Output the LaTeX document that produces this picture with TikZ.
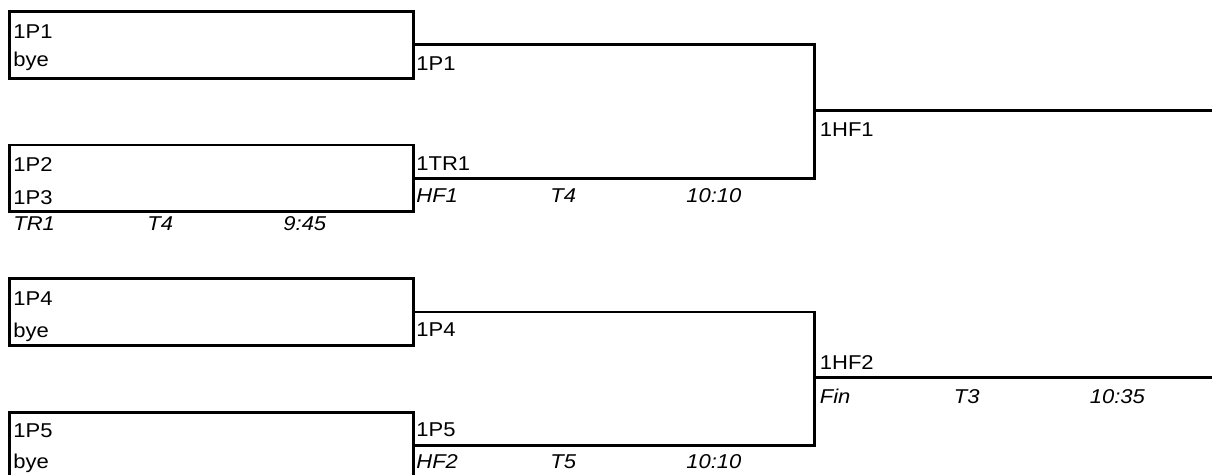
\documentclass[tikz,border=0pt]{standalone}
\usepackage{fontspec}
\setmainfont[FakeStretch=1.1]{Liberation Sans}
\usetikzlibrary{positioning}

\begin{document}
\begin{tikzpicture}[x=1pt, y=-1pt, line width=2.8pt,
    seed/.style={draw, rectangle, inner sep=0pt, anchor=north west,
      minimum width=404pt, minimum height=66.8pt},
    team/.style={anchor=base west, inner sep=0pt,
      font=\fontsize{20}{22}\selectfont},
    slot/.style={team, font=\fontsize{20}{22}\selectfont\itshape}]

\useasboundingbox (0,0) rectangle (1212,474);

% first round boxes
\foreach \m/\y in {1/10, 2/143.6, 4/277.2, 5/410.8}
  \node [seed] (seed-\m) at (8,\y) {};

% names in the boxes
\foreach \t/\l/\y [count=\i] in {1P1/p1/38, bye/bye1/66.7, 1P2/p2/171.7, 1P3/p3/204,
    1P4/p4/305, bye/bye4/337.3, 1P5/p5/437.3, bye/bye5/468}
  \node [team] (\l) at (12,\y) {\t};

% joins and finals
\coordinate (join-1) at (814.5,110.2);
\coordinate (join-2) at (814.5,377.4);
\coordinate (final-1) at (1212,110.2);
\coordinate (final-2) at (1212,377.4);

\draw (seed-1.east) -| (join-1) |- (seed-2.east);
\draw (seed-4.east) -| (join-2) |- (seed-5.east);
\draw (join-1) -- (final-1);
\draw (join-2) -- (final-2);

% winners
\node [team] (w1)   at (415,70.7)   {1P1};
\node [team] (wtr1) at (415,170)    {1TR1};
\node [team] (w4)   at (415,336)    {1P4};
\node [team] (w5)   at (415,436.7)  {1P5};
\node [team] (hf1)  at (818.5,136)  {1HF1};
\node [team] (hf2)  at (818.5,369.3) {1HF2};

% match, table and time
\foreach \a/\b/\c/\x/\y [count=\i] in {TR1/T4/9:45/12/230, HF1/T4/10:10/415/202.3,
    HF2/T5/10:10/415/468.3, Fin/T3/10:35/818.5/403.3} {
  \node [slot] (match-\i) at (\x,\y) {\a};
  \node [slot] (table-\i) at (\x+134,\y) {\b};
  \node [slot] (time-\i)  at (\x+270,\y) {\c};
}

\end{tikzpicture}
\end{document}
